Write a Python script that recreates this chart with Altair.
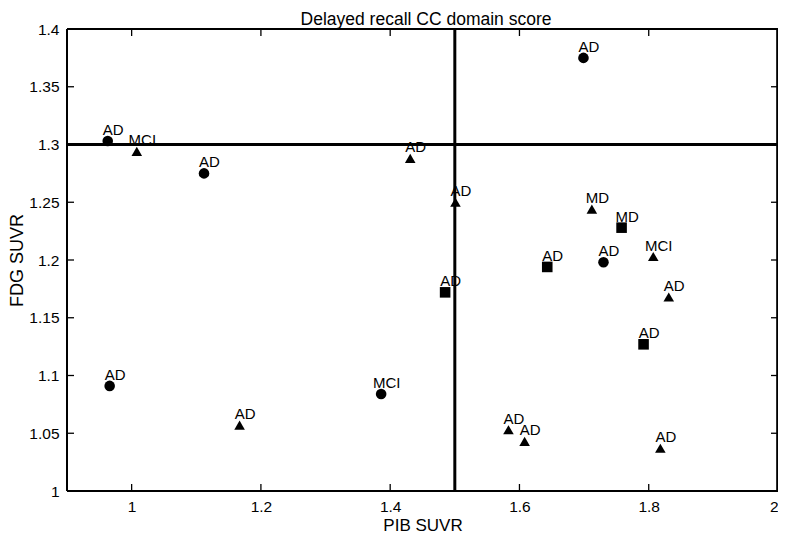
import altair as alt
import pandas as pd

# data
pib = [0.963, 1.008, 1.112, 1.431, 1.501, 1.699, 1.712, 1.758, 1.643, 1.730,
       1.807, 1.831, 1.485, 1.792, 1.583, 1.608, 1.818, 0.966, 1.167, 1.386]
fdg = [1.303, 1.294, 1.275, 1.288, 1.250, 1.375, 1.244, 1.228, 1.194, 1.198,
       1.203, 1.168, 1.172, 1.127, 1.053, 1.043, 1.037, 1.091, 1.057, 1.084]
labels = ["AD", "MCI", "AD", "AD", "AD", "AD", "MD", "MD", "AD", "AD",
          "MCI", "AD", "AD", "AD", "AD", "AD", "AD", "AD", "AD", "MCI"]
groups = ["circle", "triangle", "circle", "triangle", "triangle", "circle", "triangle",
          "square", "square", "circle", "triangle", "triangle", "square", "square",
          "triangle", "triangle", "triangle", "circle", "triangle", "circle"]

x_ticks = [1.0, 1.2, 1.4, 1.6, 1.8, 2.0]
y_ticks = [1.0, 1.05, 1.1, 1.15, 1.2, 1.25, 1.3, 1.35, 1.4]
x_cut = [1.5]
y_cut = [1.3]
title_text = ["Delayed recall CC domain score"]

FONT = "Liberation Sans"
W, H = 711, 462

df = pd.DataFrame({"pib": pib, "fdg": fdg, "label": labels, "group": groups})
xt = pd.DataFrame({"v": x_ticks})
yt = pd.DataFrame({"v": y_ticks})

xscale = alt.Scale(domain=[0.9, 2.0], nice=False, zero=False)
yscale = alt.Scale(domain=[1.0, 1.4], nice=False, zero=False)

xaxis = alt.Axis(values=x_ticks, ticks=False, domain=False, grid=False,
                 labelFontSize=15.5, labelFont=FONT, labelColor="black",
                 labelPadding=8, labelExpr="format(datum.value, '~g')",
                 title="PIB SUVR", titleFont=FONT, titleFontSize=17,
                 titleFontWeight="normal", titleColor="black",
                 titleBaseline="alphabetic", titleY=39)
yaxis = alt.Axis(values=y_ticks, ticks=False, domain=False, grid=False,
                 labelFontSize=15.5, labelFont=FONT, labelColor="black",
                 labelPadding=8, labelExpr="format(datum.value, '~g')",
                 title="FDG SUVR", titleFont=FONT, titleFontSize=18,
                 titleFontWeight="normal", titleColor="black",
                 titleBaseline="alphabetic", titleX=-45, titleY=H / 2)

base = alt.Chart(df)

points = base.mark_point(filled=True, opacity=1, color="black", size=112).encode(
    x=alt.X("pib:Q", scale=xscale, axis=xaxis),
    y=alt.Y("fdg:Q", scale=yscale, axis=yaxis),
    shape=alt.Shape("group:N", scale=alt.Scale(domain=["circle", "square", "triangle"],
                                               range=["circle", "square", "triangle-up"]),
                    legend=None),
)

text = base.mark_text(font=FONT, fontSize=15, color="black", align="center",
                      baseline="alphabetic", dx=5.5, dy=-6).encode(
    x=alt.X("pib:Q", scale=xscale),
    y=alt.Y("fdg:Q", scale=yscale),
    text="label:N",
)

title = alt.Chart(pd.DataFrame({"t": title_text})).mark_text(
    font=FONT, fontSize=17.5, color="black", align="center", baseline="alphabetic"
).encode(x=alt.value(359), y=alt.value(-4), text="t:N")

vline = alt.Chart(pd.DataFrame({"v": x_cut})).mark_rule(color="black", strokeWidth=3).encode(
    x=alt.X("v:Q", scale=xscale))
hline = alt.Chart(pd.DataFrame({"v": y_cut})).mark_rule(color="black", strokeWidth=3).encode(
    y=alt.Y("v:Q", scale=yscale))

tick_style = dict(color="black", strokeWidth=1.3)
bx = alt.Chart(xt).mark_rule(**tick_style).encode(
    x=alt.X("v:Q", scale=xscale), y=alt.value(H), y2=alt.value(H - 7))
tx = alt.Chart(xt).mark_rule(**tick_style).encode(
    x=alt.X("v:Q", scale=xscale), y=alt.value(0), y2=alt.value(7))
ly = alt.Chart(yt).mark_rule(**tick_style).encode(
    y=alt.Y("v:Q", scale=yscale), x=alt.value(0), x2=alt.value(7))
ry = alt.Chart(yt).mark_rule(**tick_style).encode(
    y=alt.Y("v:Q", scale=yscale), x=alt.value(W), x2=alt.value(W - 7))

# plot frame
frame_style = dict(color="black", strokeWidth=1.5)
f_top = alt.Chart(xt).mark_rule(**frame_style).encode(
    x=alt.value(0), x2=alt.value(W), y=alt.value(0))
f_bot = alt.Chart(xt).mark_rule(**frame_style).encode(
    x=alt.value(0), x2=alt.value(W), y=alt.value(H))
f_left = alt.Chart(xt).mark_rule(**frame_style).encode(
    y=alt.value(0), y2=alt.value(H), x=alt.value(0))
f_right = alt.Chart(xt).mark_rule(**frame_style).encode(
    y=alt.value(0), y2=alt.value(H), x=alt.value(W - 0.5))

chart = alt.layer(f_top, f_bot, f_left, f_right, bx, tx, ly, ry, vline, hline,
                  points, text, title).properties(
    width=W, height=H,
    autosize=alt.AutoSizeParams(type="none"),
    padding={"left": 59, "top": 21, "right": 0, "bottom": 43},
).configure_view(stroke="transparent").configure(background="white")

chart.save("out.html", embed_options={"renderer": "svg", "actions": False})
